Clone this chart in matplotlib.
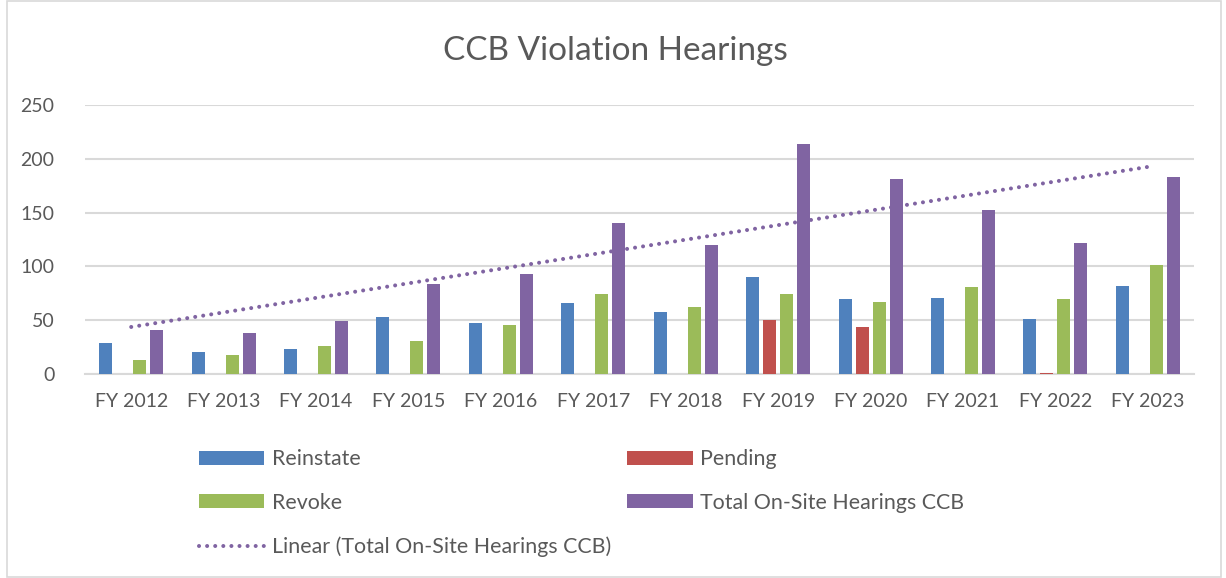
import numpy as np
import matplotlib.pyplot as plt
from matplotlib.patches import Rectangle
from matplotlib.lines import Line2D

years = ['FY 2012', 'FY 2013', 'FY 2014', 'FY 2015', 'FY 2016', 'FY 2017',
         'FY 2018', 'FY 2019', 'FY 2020', 'FY 2021', 'FY 2022', 'FY 2023']
reinstate = [29, 20, 23, 53, 47, 66, 58, 90, 70, 71, 51, 82]
pending = [0, 0, 0, 0, 0, 0, 0, 50, 44, 0, 1, 0]
revoke = [13, 18, 26, 31, 46, 74, 62, 74, 67, 81, 70, 101]
total = [41, 38, 49, 84, 93, 140, 120, 214, 181, 152, 122, 183]

plt.rcParams['font.family'] = ['Lato', 'DejaVu Sans']
txt = '#595959'
grid = '#D9D9D9'

fig = plt.figure(figsize=(12.26, 5.78), dpi=100)
fig.patches.append(Rectangle((7 / 1226, 1 / 578), 1214 / 1226, 576 / 578,
                             transform=fig.transFigure, fill=False,
                             edgecolor=grid, lw=1.2))

ax = fig.add_axes([85 / 1226, 204 / 578, 1109 / 1226, 269 / 578])

x = np.arange(len(years))
slot = 0.184
bw = 0.14
series = [('Reinstate', reinstate, '#4F81BD'),
          ('Pending', pending, '#C0504D'),
          ('Revoke', revoke, '#9BBB59'),
          ('Total On-Site Hearings CCB', total, '#8064A2')]
handles = {}
for k, (name, vals, col) in enumerate(series):
    b = ax.bar(x + (k - 1.5) * slot, vals, bw, color=col, label=name, zorder=3)
    handles[name] = b

# linear trendline of totals
m, c = np.polyfit(x, total, 1)
trend, = ax.plot(x, m * x + c, color='#8064A2', lw=2.9,
                 linestyle=(0, (0.01, 2)), dash_capstyle='round', zorder=4)

ax.set_xlim(-0.5, len(years) - 0.5)
ax.set_ylim(0, 250)
ax.set_yticks(range(0, 251, 50))
ax.set_xticks(x)
ax.set_xticklabels(years)
ax.yaxis.grid(True, color=grid, lw=1.5, zorder=0)
for s in ['top', 'right', 'left']:
    ax.spines[s].set_visible(False)
ax.spines['bottom'].set_color(grid)
ax.spines['bottom'].set_linewidth(1.5)
ax.tick_params(axis='both', length=0, labelsize=14, colors=txt)
ax.tick_params(axis='x', pad=14)
ax.tick_params(axis='y', pad=22)

fig.text(615 / 1226, 1 - 51 / 578, 'CCB Violation Hearings', ha='center',
         va='center', fontsize=24, color=txt)

trend_h = Line2D([], [], color='#8064A2', lw=2.9, linestyle=(0, (0.01, 2)),
                 dash_capstyle='round')
leg = fig.legend([handles['Reinstate'], handles['Revoke'], trend_h,
                  handles['Pending'], handles['Total On-Site Hearings CCB']],
                 ['Reinstate', 'Revoke', 'Linear (Total On-Site Hearings CCB)',
                  'Pending', 'Total On-Site Hearings CCB'],
                 ncol=2, loc='upper left', bbox_to_anchor=(180 / 1226, 1 - 430 / 578),
                 frameon=False, fontsize=15.4, labelcolor=txt,
                 handlelength=3.04, handleheight=0.65, handletextpad=0.37,
                 labelspacing=1.1, columnspacing=0.75)

fig.savefig('out.png', dpi=100)
